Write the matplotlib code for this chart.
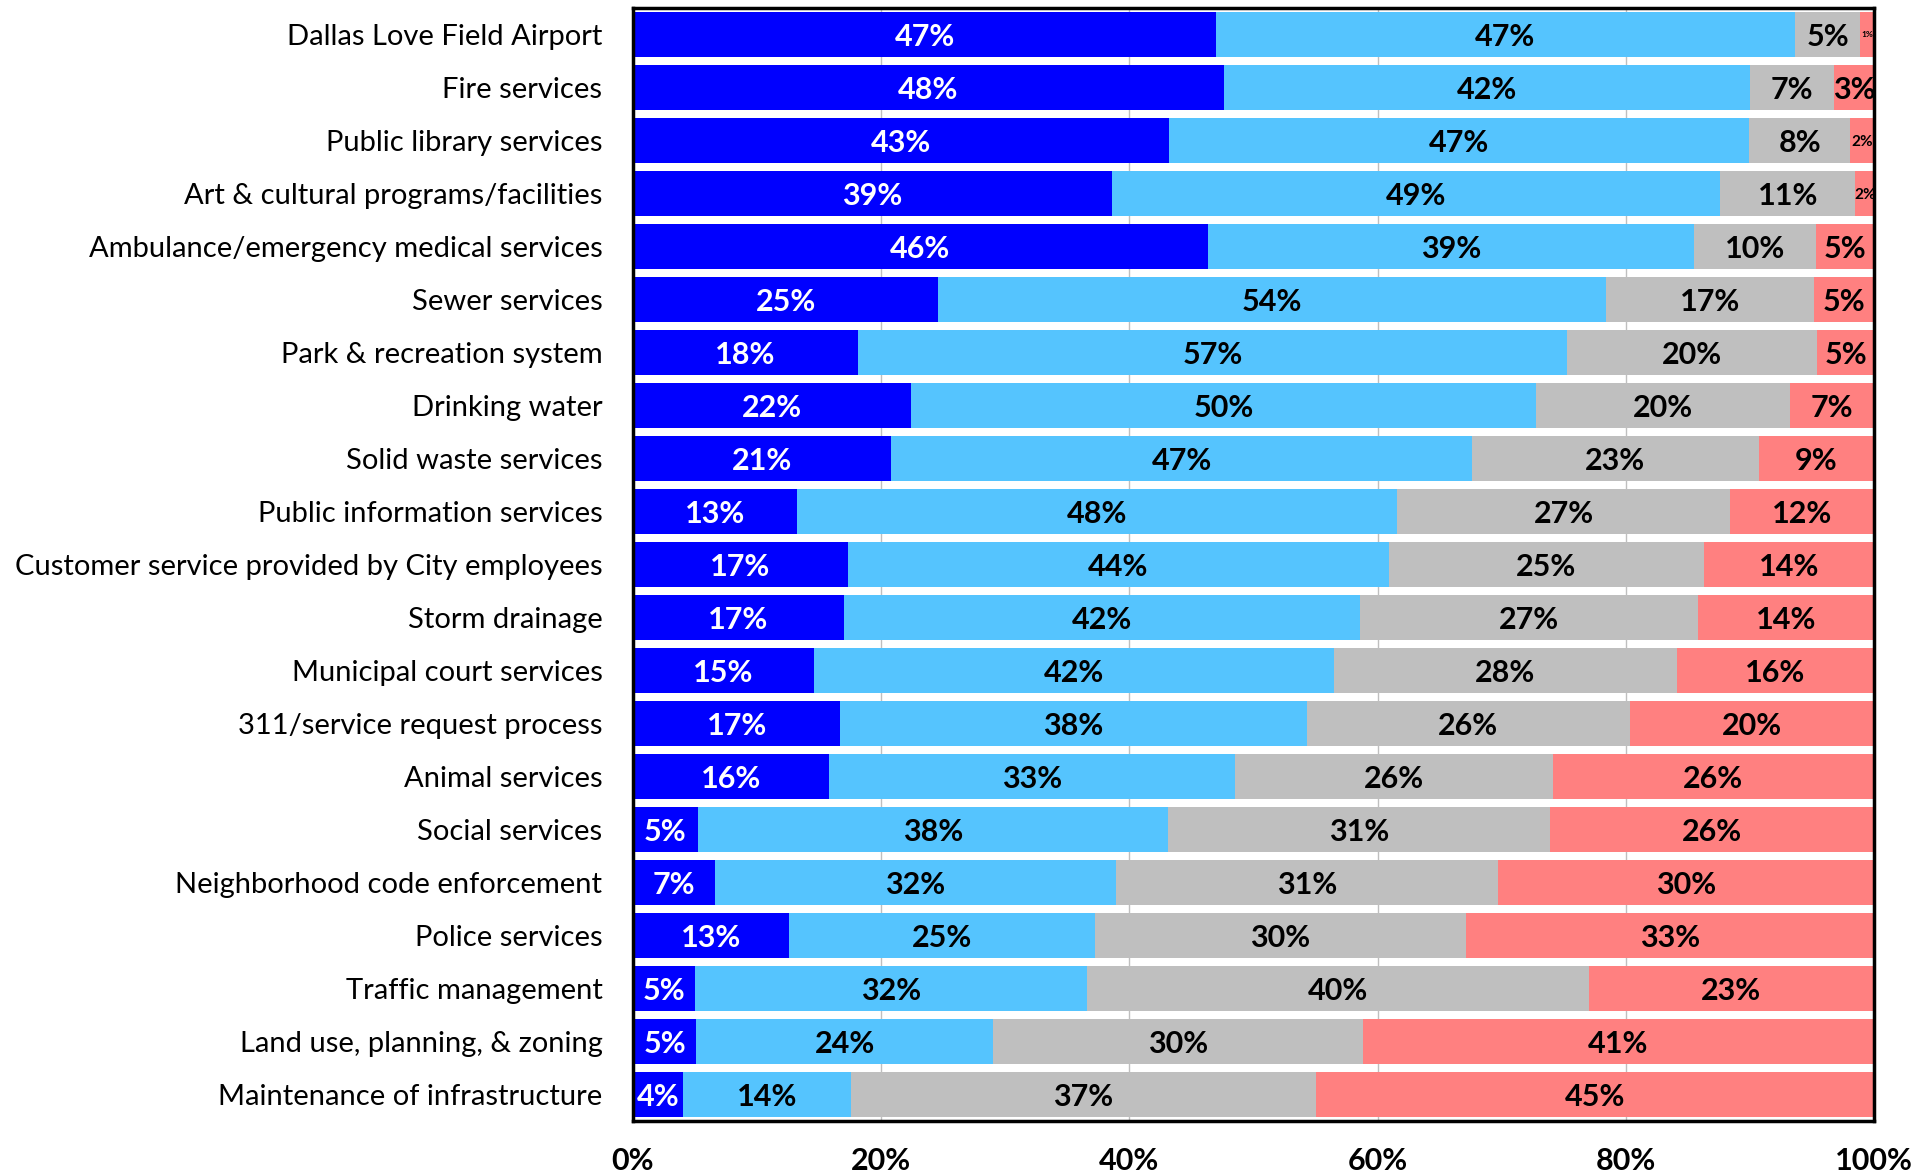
import numpy as np
import matplotlib.pyplot as plt

plt.rcParams['font.family'] = ['Lato', 'DejaVu Sans']

services = ["Dallas Love Field Airport", "Fire services", "Public library services",
            "Art & cultural programs/facilities", "Ambulance/emergency medical services",
            "Sewer services", "Park & recreation system", "Drinking water",
            "Solid waste services", "Public information services",
            "Customer service provided by City employees", "Storm drainage",
            "Municipal court services", "311/service request process", "Animal services",
            "Social services", "Neighborhood code enforcement", "Police services",
            "Traffic management", "Land use, planning, & zoning",
            "Maintenance of infrastructure"]

# share of respondents (%)
excellent = [47.0, 47.6, 43.2, 38.6, 46.3, 24.6, 18.1, 22.4, 20.8, 13.2, 17.3,
             17.0, 14.6, 16.7, 15.8, 5.2, 6.6, 12.6, 5.0, 5.1, 4.0]
good = [46.6, 42.4, 46.7, 49.0, 39.2, 53.8, 57.2, 50.4, 46.8, 48.4, 43.6,
        41.6, 41.9, 37.6, 32.7, 37.9, 32.3, 24.6, 31.6, 23.9, 13.6]
fair = [5.3, 6.8, 8.2, 10.9, 9.8, 16.8, 20.1, 20.4, 23.1, 26.8, 25.4,
        27.2, 27.6, 26.0, 25.6, 30.8, 30.8, 29.9, 40.4, 29.8, 37.4]
poor = [1.1, 3.2, 1.9, 1.6, 4.7, 4.8, 4.6, 6.8, 9.3, 11.6, 13.7,
        14.3, 15.9, 19.7, 25.9, 26.1, 30.3, 32.9, 23.0, 41.2, 45.0]

series = [excellent, good, fair, poor]
colors = ['#0000FF', '#55C4FE', '#BFBFBF', '#FF8080']
text_colors = ['white', 'black', 'black', 'black']

fig = plt.figure(figsize=(19.31, 11.73), dpi=100)
ax = fig.add_axes([0.3278, 0.0443, 0.6427, 0.9489])

y = np.arange(len(services))
left = np.zeros(len(services))
for vals, col, tcol in zip(series, colors, text_colors):
    vals = np.array(vals)
    bars = ax.barh(y, vals, left=left, height=0.86, color=col, zorder=2)
    labels = [f"{v:.0f}%" for v in vals]
    texts = ax.bar_label(bars, labels=labels, label_type='center',
                         color=tcol, fontsize=22, fontweight='bold')
    for t, v in zip(texts, vals):
        t.set_verticalalignment('center_baseline')
        if v < 1.5:
            t.set_fontsize(6)
        elif v < 2.5:
            t.set_fontsize(11)
    left += vals

ax.set_xlim(0, 100)
ax.set_ylim(len(services) - 0.5, -0.5)
ax.set_yticks(y)
ax.set_yticklabels(services, fontsize=21)
ax.set_xticks(np.arange(0, 101, 20))
ax.set_xticklabels([f"{v}%" for v in range(0, 101, 20)], fontsize=22, fontweight='bold')
ax.tick_params(axis='both', length=0)
ax.tick_params(axis='y', pad=22)
ax.tick_params(axis='x', pad=19)
ax.grid(axis='x', color='#BFBFBF', linewidth=1, zorder=0)
ax.set_axisbelow(True)
for s in ax.spines.values():
    s.set_linewidth(2.5)
    s.set_color('black')
    s.set_zorder(3)

fig.savefig('out.png', dpi=100)
